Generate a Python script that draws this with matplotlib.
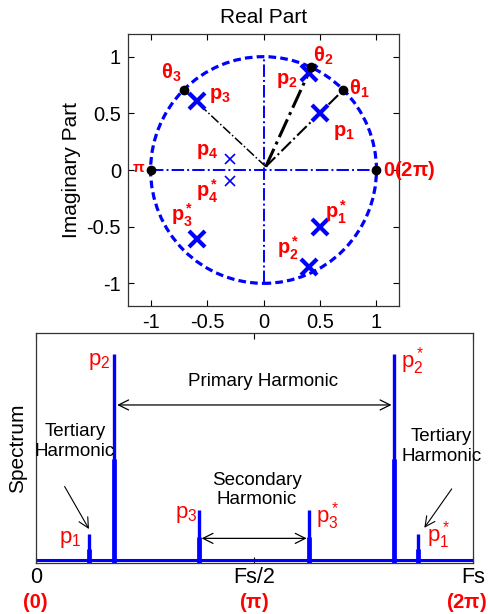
import matplotlib.pyplot as plt
import numpy as np
from matplotlib.patches import Circle

plt.rcParams['font.family'] = ['Liberation Sans', 'DejaVu Sans']
plt.rcParams['mathtext.fontset'] = 'custom'
plt.rcParams['mathtext.rm'] = 'Liberation Sans'
plt.rcParams['mathtext.it'] = 'Liberation Sans'
plt.rcParams['mathtext.bf'] = 'Liberation Sans:bold'

BLUE = '#0000ff'
RED = '#ff0000'

# z-plane: poles (upper half, conjugates mirror them)
pole_re = [0.5, 0.4, -0.59]
pole_im = [0.5, 0.86, 0.61]
small_re = [-0.3]
small_im = [0.1]
# angle of each pole on the unit circle (degrees)
theta_deg = [45, 65, 135]
edge_deg = [0, 180]

# spectrum peaks (normalised frequency 0..Fs)
peak_freq = [0.123, 0.180, 0.373, 0.626, 0.820, 0.875]
peak_height = [0.125, 0.907, 0.23, 0.23, 0.907, 0.125]
floor_level = 0.012
freq_ticks = [0, 0.5, 1]
freq_labels = ['0', 'Fs/2', 'Fs']
rad_labels = ['(0)', r'($\mathbf{\pi}$)', r'(2$\mathbf{\pi}$)']

fig = plt.figure(figsize=(4.89, 6.14), dpi=100)

# ---------- pole-zero plot ----------
ax1 = fig.add_axes([0.2618, 0.5016, 0.5542, 0.443])
ax1.set_xlim(-1.2, 1.2)
ax1.set_ylim(-1.2, 1.2)
ax1.add_patch(Circle((0, 0), 1, fill=False, ec=BLUE, lw=2.3,
                     ls=(0, (2.4, 1.3))))
ax1.plot([-1, 1], [0, 0], color=BLUE, lw=1.4, ls='-.')
ax1.plot([0, 0], [-1, 1], color=BLUE, lw=1.4, ls='-.')

th = np.deg2rad(theta_deg)
line_w = [1.5, 2.2, 1.1]
for t, w in zip(th, line_w):
    ax1.plot([0.02, np.cos(t)], [0.03, np.sin(t)], color='k', lw=w, ls='-.')
all_t = np.deg2rad(theta_deg + edge_deg)
ax1.plot(np.cos(all_t), np.sin(all_t), 'o', color='k', ms=6, zorder=5)

ax1.plot(pole_re, pole_im, 'x', color=BLUE, ms=12, mew=3)
ax1.plot(pole_re, [-v for v in pole_im], 'x', color=BLUE, ms=12, mew=3)
ax1.plot(small_re, small_im, 'x', color=BLUE, ms=7, mew=1.2)
ax1.plot(small_re, [-v for v in small_im], 'x', color=BLUE, ms=7, mew=1.2)

lab = dict(color=RED, fontsize=14.5, fontweight='bold', ha='center', va='center')
ax1.text(-0.82, 0.86, r'$\mathbf{\theta_3}$', **lab)
ax1.text(0.53, 1.01, r'$\mathbf{\theta_2}$', **lab)
ax1.text(0.85, 0.72, r'$\mathbf{\theta_1}$', **lab)
ax1.text(0.21, 0.79, r'$\mathbf{p_2}$', **lab)
ax1.text(-0.39, 0.66, r'$\mathbf{p_3}$', **lab)
ax1.text(0.71, 0.33, r'$\mathbf{p_1}$', **lab)
ax1.text(-0.50, 0.16, r'$\mathbf{p_4}$', **lab)
ax1.text(-0.50, -0.19, r'$\mathbf{p_4^*}$', **lab)
ax1.text(-0.72, -0.40, r'$\mathbf{p_3^*}$', **lab)
ax1.text(0.22, -0.69, r'$\mathbf{p_2^*}$', **lab)
ax1.text(0.64, -0.37, r'$\mathbf{p_1^*}$', **lab)
ax1.text(-1.11, 0.02, r'$\mathbf{\pi}$', color=RED, fontsize=11,
         ha='center', va='center')
ax1.text(1.06, 0.0, r'0(2$\mathbf{\pi}$)', color=RED, fontsize=14.5,
         fontweight='bold', ha='left', va='center', clip_on=False)

ax1.set_xticks([-1, -0.5, 0, 0.5, 1])
ax1.set_yticks([-1, -0.5, 0, 0.5, 1])
ax1.set_xticklabels(['-1', '-0.5', '0', '0.5', '1'])
ax1.set_yticklabels(['-1', '-0.5', '0', '0.5', '1'])
ax1.tick_params(direction='in', top=True, right=True, labelsize=14.5,
                length=4, pad=5)
ax1.set_title('Real Part', fontsize=15, pad=8)
ax1.set_ylabel('Imaginary Part', fontsize=15, labelpad=4)
for s in ax1.spines.values():
    s.set_linewidth(0.9)
    s.set_color('#333333')

# ---------- spectrum ----------
ax2 = fig.add_axes([0.073, 0.0831, 0.8943, 0.3746])
ax2.set_xlim(0, 1)
ax2.set_ylim(0, 1)
ax2.plot([0, 1], [floor_level, floor_level], color=BLUE, lw=2.2)
ax2.vlines(peak_freq, 0, peak_height, color=BLUE, lw=2.4)
ax2.vlines(peak_freq, 0, [h * 0.5 for h in peak_height], color=BLUE, lw=3.4)

ann = dict(fontsize=13.5, ha='center', va='center')
ax2.text(0.52, 0.79, 'Primary Harmonic', **ann)
ax2.text(0.505, 0.317, 'Secondary\nHarmonic', linespacing=1.2, **ann)
ax2.text(0.09, 0.527, 'Tertiary\nHarmonic', linespacing=1.2, **ann)
ax2.text(0.928, 0.506, 'Tertiary\nHarmonic', linespacing=1.2, **ann)

arr = dict(arrowstyle='<->', color='k', lw=0.9, mutation_scale=18)
ax2.annotate('', xy=(peak_freq[1], 0.687), xytext=(peak_freq[4], 0.687),
             arrowprops=arr)
ax2.annotate('', xy=(peak_freq[2], 0.107), xytext=(peak_freq[3], 0.107),
             arrowprops=arr)
one = dict(arrowstyle='->', color='k', lw=0.8, mutation_scale=18)
ax2.annotate('', xy=(0.125, 0.137), xytext=(0.063, 0.343), arrowprops=one)
ax2.annotate('', xy=(0.885, 0.143), xytext=(0.955, 0.332), arrowprops=one)

plab = dict(color=RED, fontsize=16, ha='center', va='center')
ax2.text(0.145, 0.875, r'$p_2$', **plab)
ax2.text(0.862, 0.88, r'$p_2^*$', **plab)
ax2.text(0.345, 0.209, r'$p_3$', **plab)
ax2.text(0.668, 0.205, r'$p_3^*$', **plab)
ax2.text(0.078, 0.10, r'$p_1$', **plab)
ax2.text(0.921, 0.12, r'$p_1^*$', **plab)

ax2.set_xticks(freq_ticks)
ax2.set_xticklabels(freq_labels)
ax2.set_yticks([])
ax2.tick_params(axis='x', direction='in', top=True, labelsize=15.5,
                length=4, pad=3)
rad_x = [0, 0.5, 1.033]
rad_ha = ['center', 'center', 'right']
for x, t, h in zip(rad_x, rad_labels, rad_ha):
    ax2.text(x, -0.172, t, color=RED, fontsize=14.5, fontweight='bold',
             ha=h, va='center', clip_on=False)
ax2.set_ylabel('Spectrum', fontsize=15, labelpad=6)
for s in ax2.spines.values():
    s.set_linewidth(0.9)
    s.set_color('#333333')

fig.savefig('out.png', dpi=100)
